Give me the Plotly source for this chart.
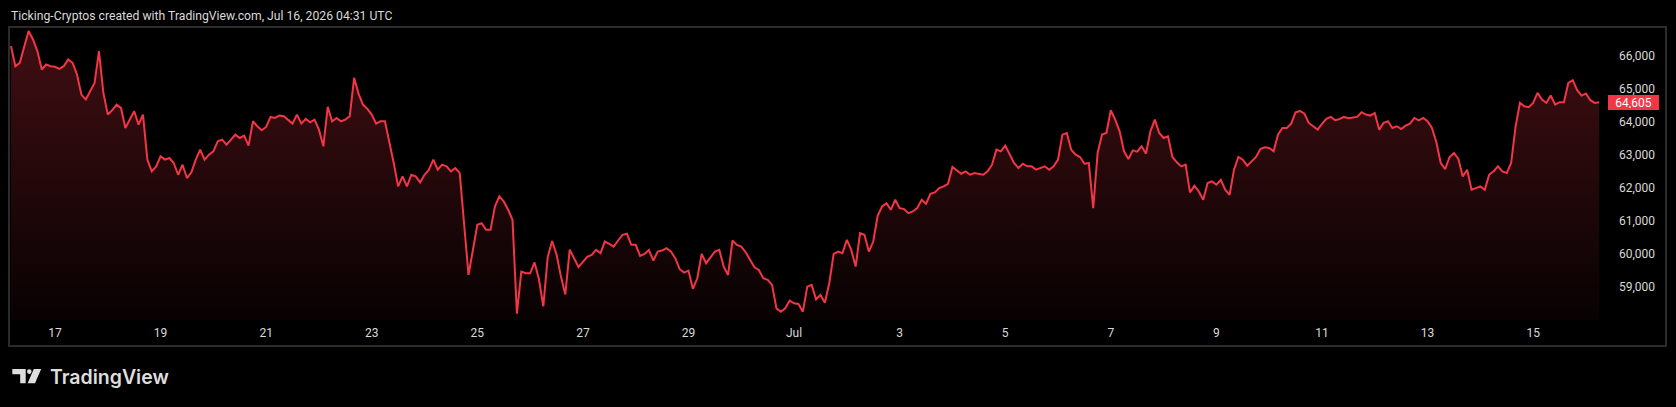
import plotly.graph_objects as go
import pandas as pd

# ---------------- data ----------------
start_time = "2026-06-16 04:00"
step = "2h"
prices = [
    66304, 65697, 65798, 66325, 66760, 66507, 66153, 65596, 65748, 65697,
    65677, 65616, 65697, 65900, 65798, 65444, 64837, 64685, 64938, 65191,
    66153, 64888, 64230, 64361, 64533, 64432, 63825, 64078, 64331, 63926,
    64230, 62864, 62510, 62661, 62965, 62864, 62914, 62763, 62408, 62712,
    62307, 62479, 62864, 63167, 62864, 63016, 63117, 63420, 63471, 63319,
    63471, 63623, 63521, 63592, 63289, 64027, 63876, 63754, 63855, 64159,
    64129, 64200, 64179, 64078, 63957, 64230, 63957, 64098, 63997, 64078,
    63774, 63268, 64463, 64027, 64129, 64027, 64078, 64179, 65343, 64867,
    64533, 64402, 64230, 63957, 64027, 64027, 63420, 62762, 62054, 62358,
    62054, 62408, 62358, 62176, 62408, 62560, 62864, 62560, 62712, 62661,
    62510, 62611, 62459, 60840, 59372, 60131, 60890, 60941, 60738, 60738,
    61447, 61751, 61599, 61346, 61042, 58200, 59473, 59423, 59423, 59750,
    59250, 58420, 59909, 60400, 60000, 59330, 58780, 60140, 59900, 59615,
    59770, 59920, 59979, 60131, 60030, 60384, 60313, 60232, 60415, 60587,
    60620, 60283, 60283, 59949, 60010, 60131, 59807, 60081, 60111, 60182,
    60081, 59878, 59545, 59443, 59504, 58950, 59271, 60010, 59727, 59909,
    60081, 60131, 59626, 59372, 60415, 60283, 60232, 60060, 59828, 59605,
    59524, 59271, 59221, 59069, 58360, 58259, 58360, 58593, 58512, 58492,
    58259, 59018, 59069, 58634, 58765, 58532, 59120, 60010, 60081, 60030,
    60435, 60131, 59626, 60637, 60587, 60081, 60384, 61163, 61447, 61548,
    61346, 61650, 61396, 61366, 61244, 61295, 61396, 61650, 61528, 61831,
    61872, 62004, 62054, 62135, 62641, 62540, 62439, 62510, 62408, 62459,
    62439, 62408, 62510, 62712, 63167, 63117, 63289, 63046, 62763, 62611,
    62742, 62661, 62661, 62560, 62611, 62661, 62560, 62661, 62864, 63623,
    63673, 63167, 63016, 62945, 62742, 62763, 61396, 63066, 63623, 63673,
    64361, 64078, 63724, 63117, 62884, 63147, 63106, 63268, 63046, 63724,
    64078, 63673, 63521, 63572, 62945, 62783, 62661, 62712, 61872, 62074,
    61902, 61649, 62155, 62206, 62105, 62256, 61953, 61801, 62560, 62945,
    62864, 62682, 62813, 62945, 63188, 63238, 63218, 63117, 63623, 63825,
    63825, 63957, 64301, 64341, 64260, 63977, 63876, 63774, 63950, 64100,
    64159, 64058, 64098, 64159, 64119, 64129, 64159, 64301, 64230, 64200,
    64280, 63774, 63977, 64027, 63825, 63876, 63795, 63896, 63957, 64129,
    64058, 64129, 64027, 63825, 63390, 62762, 62580, 62945, 63066, 62884,
    62358, 62560, 61953, 62004, 62054, 61953, 62408, 62510, 62661, 62510,
    62459, 62763, 63856, 64584, 64483, 64453, 64584, 64888, 64685, 64584,
    64807, 64533, 64604, 64604, 65191, 65272, 64968, 64807, 64867, 64665,
    64584, 64605,
]
last_price_label = "64,605"

tick_dates = ["2026-06-17", "2026-06-19", "2026-06-21", "2026-06-23", "2026-06-25",
              "2026-06-27", "2026-06-29", "2026-07-01", "2026-07-03", "2026-07-05",
              "2026-07-07", "2026-07-09", "2026-07-11", "2026-07-13", "2026-07-15"]
tick_labels = ["17", "19", "21", "23", "25", "27", "29", "Jul",
               "3", "5", "7", "9", "11", "13", "15"]
price_ticks = [59000, 60000, 61000, 62000, 63000, 64000, 65000, 66000]

title_text = "Ticking-Cryptos created with TradingView.com, Jul 16, 2026 04:31 UTC"
brand_text = "TradingView"

# ---------------- layout geometry ----------------
W, H = 1676, 407
L, R, T, B = 10, 1605, 28, 320

def px(x):
    return (x - L) / (R - L)

def py(y):
    return (B - y) / (B - T)

times = pd.date_range(start_time, periods=len(prices), freq=step)

RED = "#F23645"
TXT = "#d9d9d9"

fig = go.Figure()
fig.add_trace(go.Scatter(
    x=times, y=prices, mode="lines",
    line=dict(color=RED, width=2),
    fill="tozeroy",
    fillgradient=dict(
        type="vertical",
        colorscale=[[0, "rgba(242,54,69,0.03)"], [1, "rgba(242,54,69,0.27)"]],
        start=58000, stop=max(prices),
    ),
    hoverinfo="skip", showlegend=False,
))

shapes = []
# outer frame
shapes.append(dict(type="rect", xref="paper", yref="paper",
                   x0=px(9), x1=px(1666), y0=py(346), y1=py(27),
                   line=dict(color="#2b2b2b", width=2), fillcolor="rgba(0,0,0,0)",
                   layer="above"))

def path(points):
    return "M" + " L".join(f"{px(x):.5f},{py(y):.5f}" for x, y in points) + " Z"

LOGO = "#dedede"
shapes.append(dict(type="path", xref="paper", yref="paper",
                   path=path([(12.3, 369), (25.7, 369), (25.7, 383.3), (20.2, 383.3),
                              (20.2, 374.2), (12.3, 374.2)]),
                   fillcolor=LOGO, line=dict(width=0)))
shapes.append(dict(type="circle", xref="paper", yref="paper",
                   x0=px(27.0), x1=px(31.6), y0=py(373.9), y1=py(369.3),
                   fillcolor=LOGO, line=dict(width=0)))
shapes.append(dict(type="path", xref="paper", yref="paper",
                   path=path([(33.8, 369), (41.2, 369), (35.0, 383.3), (27.6, 383.3)]),
                   fillcolor=LOGO, line=dict(width=0)))

annotations = [
    dict(text=title_text, xref="paper", yref="paper", x=px(9), y=py(16),
         xanchor="left", yanchor="middle", showarrow=False,
         font=dict(family="Roboto", size=12.2, color=TXT)),
    dict(text=brand_text, xref="paper", yref="paper", x=px(48), y=py(377),
         xanchor="left", yanchor="middle", showarrow=False,
         font=dict(family="Inter", size=19.5, color=LOGO, weight=600)),
    dict(text=last_price_label, xref="paper", yref="y", x=1, y=prices[-1],
         xanchor="left", yanchor="middle", xshift=3, showarrow=False,
         bgcolor=RED, borderpad=2, borderwidth=0, width=47, height=11, align="center",
         font=dict(family="Roboto", size=12, color="#ffffff")),
]

fig.update_layout(
    width=W, height=H,
    margin=dict(l=L, r=W - R, t=T, b=H - B, pad=0),
    paper_bgcolor="#000000", plot_bgcolor="#000000",
    shapes=shapes, annotations=annotations,
    hovermode=False,
    xaxis=dict(
        type="date",
        range=["2026-06-16 03:33", "2026-07-16 08:40"],
        tickvals=tick_dates, ticktext=tick_labels,
        showgrid=False, zeroline=False, showline=False,
        ticks="", ticklabelstandoff=4,
        tickfont=dict(family="Roboto", size=12, color=TXT),
        fixedrange=True,
    ),
    yaxis=dict(
        side="right",
        range=[58007, 66853],
        tickvals=price_ticks, tickformat=",",
        showgrid=False, zeroline=False, showline=False,
        ticks="", ticklabelstandoff=13,
        tickfont=dict(family="Roboto", size=12, color=TXT),
        fixedrange=True,
    ),
)

fig.write_html(
    "out.html",
    config={"displayModeBar": False},
    post_script="document.body.style.margin='0';document.body.style.background='#000';"
                "document.documentElement.style.background='#000';",
)
